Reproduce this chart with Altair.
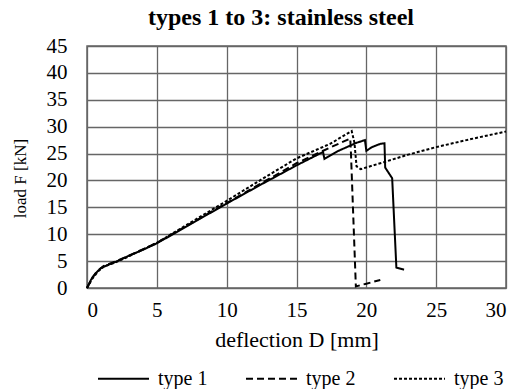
import altair as alt
import pandas as pd

# Load–deflection curves for the three stainless steel specimen types
series = ["type 1", "type 2", "type 3"]

type1_d = [0, 0.3, 0.6, 1.0, 1.5, 2, 3, 4, 5, 7.5, 10, 12.5, 15, 16.9, 17.0, 18,
           19.3, 19.9, 20.0, 20.4, 21.0, 21.3, 21.35, 21.7, 21.85, 22.15, 22.7]
type1_f = [0, 1.6, 2.7, 3.7, 4.3, 4.8, 6.0, 7.1, 8.3, 12.0, 15.7, 19.3, 22.8, 25.3, 24.0, 25.5,
           27.0, 27.5, 25.5, 26.2, 26.8, 26.9, 22.4, 21.0, 20.4, 3.8, 3.4]

type2_d = [0, 0.4, 0.8, 1.2, 2, 3, 5, 7.5, 10, 12.5, 15, 17.3, 18.85, 18.9, 19.25, 20, 21]
type2_f = [0, 2.0, 3.3, 4.1, 4.9, 6.0, 8.4, 12.1, 15.8, 19.5, 23.2, 26.0, 27.8, 25.0, 0.3, 0.8, 1.5]

type3_d = [0, 0.4, 0.8, 1.2, 2, 3, 5, 7.5, 10, 12.5, 15, 17.4, 18.95, 19.15, 19.3, 19.6,
           21, 23, 25, 27.5, 30]
type3_f = [0, 1.8, 3.1, 4.0, 4.7, 5.9, 8.4, 12.3, 16.2, 20.2, 24.1, 26.8, 29.2, 27.0, 22.6, 22.1,
           23.2, 24.8, 26.2, 27.7, 29.1]

x_ticks = [0, 5, 10, 15, 20, 25, 30]
y_ticks = [0, 5, 10, 15, 20, 25, 30, 35, 40, 45]
chart_title = "types 1 to 3: stainless steel"

rows = []
for name, ds, fs in zip(series, [type1_d, type2_d, type3_d], [type1_f, type2_f, type3_f]):
    for i, (d, f) in enumerate(zip(ds, fs)):
        rows.append({"series": name, "D": d, "F": f, "i": i})
df = pd.DataFrame(rows)

FONT = "Liberation Serif"
GRID = "#666666"

lines = alt.Chart(df).mark_line(color="black", strokeWidth=2).encode(
    x=alt.X(
        "D:Q",
        scale=alt.Scale(domain=[0, 30], nice=False, zero=False),
        axis=alt.Axis(
            values=x_ticks, title="deflection D [mm]", ticks=False, domain=False,
            labelFont=FONT, labelColor="black", labelFontSize=21, labelPadding=11,
            titleFont=FONT, titleColor="black", titleFontSize=22, titleFontWeight="normal",
            titleY=58, titleBaseline="alphabetic",
            grid=True, gridColor=GRID, gridWidth=1.3,
        ),
    ),
    y=alt.Y(
        "F:Q",
        scale=alt.Scale(domain=[0, 45], nice=False),
        axis=alt.Axis(
            values=y_ticks, title="load F [kN]", ticks=False, domain=False,
            labelFont=FONT, labelColor="black", labelFontSize=21, labelPadding=20,
            titleFont=FONT, titleColor="black", titleFontSize=17, titleFontWeight="normal",
            titleX=-67, titleY=132, titleBaseline="middle",
            grid=True, gridColor=GRID, gridWidth=1.3,
        ),
    ),
    strokeDash=alt.StrokeDash(
        "series:N",
        scale=alt.Scale(domain=series, range=[[1, 0], [7, 4], [3, 2]]),
        legend=alt.Legend(
            title=None, orient="none", direction="horizontal", legendX=10, legendY=306,
            symbolType="stroke", symbolSize=2600, symbolStrokeWidth=2, symbolStrokeColor="black",
            labelFont=FONT, labelColor="black", labelFontSize=20, labelOffset=8, columnPadding=34,
        ),
    ),
    order="i:Q",
)

# Bold heading above the plot area
heading = alt.Chart(pd.DataFrame({"t": [chart_title]})).mark_text(
    font=FONT, fontSize=24, fontWeight="bold", color="black", baseline="alphabetic", align="center",
).encode(
    text="t:N",
    x=alt.value(194),
    y=alt.value(-21),
)

chart = alt.layer(lines, heading).properties(
    width=419,
    height=242,
    padding={"left": 87, "top": 46, "right": 11, "bottom": 101},
    autosize=alt.AutoSizeParams(type="none"),
).configure(
    font=FONT,
).configure_view(
    stroke=GRID, strokeWidth=1.5, clip=False,
)

chart.save("out.html", embed_options={"renderer": "svg", "actions": False})
